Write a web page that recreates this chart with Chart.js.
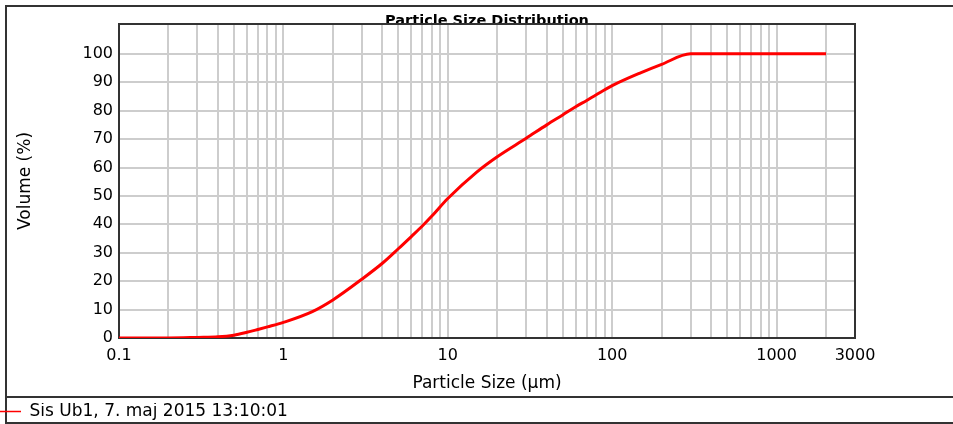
<!DOCTYPE html>
<html>
<head>
<meta charset="utf-8">
<script src="https://cdn.jsdelivr.net/npm/chart.js@4.4.0/dist/chart.umd.min.js"></script>
<style>
    html, body { margin: 0; padding: 0; background: #fff; }
    #wrap { width: 953px; height: 424px; position: relative; }
</style>
</head>
<body>
<div id="wrap"><canvas id="psdChart"></canvas></div>
<script>
    // particle size (um) and cumulative volume (%)
    const sizes = [0.1, 0.2, 0.3, 0.4, 0.5, 0.6, 0.7, 0.8, 1, 1.5, 2, 3, 4, 5, 6, 7, 8, 10, 15, 20, 30, 40, 50, 60, 70, 80, 100, 150, 200, 300, 2000];
    const volume = [0, 0, 0.2, 0.4, 1.0, 2.0, 3.0, 3.9, 5.5, 9.3, 13.4, 20.7, 26.3, 31.4, 35.7, 39.4, 42.9, 49.1, 58.4, 63.8, 70.3, 75.0, 78.5, 81.4, 83.6, 85.6, 88.8, 93.4, 96.3, 100, 100];

    const xGrid = [0.1, 0.2, 0.3, 0.4, 0.5, 0.6, 0.7, 0.8, 0.9,
        1, 2, 3, 4, 5, 6, 7, 8, 9,
        10, 20, 30, 40, 50, 60, 70, 80, 90,
        100, 200, 300, 400, 500, 600, 700, 800, 900,
        1000, 2000, 3000];
    const xLabels = [0.1, 1, 10, 100, 1000, 3000];
    const yTicks = [0, 10, 20, 30, 40, 50, 60, 70, 80, 90, 100];

    const seriesLabel = 'Sis Ub1, 7. maj 2015 13:10:01';
    const chartTitle = 'Particle Size Distribution';

    const FONT = '"DejaVu Sans", Verdana, sans-serif';
    const gridColor = '#cdcdcd';

    // frames, plot border and the clipped title
    const framePlugin = {
        id: 'frames',
        beforeDraw(chart) {
            const {ctx, width} = chart;
            ctx.save();
            ctx.strokeStyle = '#333';
            ctx.lineWidth = 2;
            ctx.strokeRect(6, 6, width + 10, 417);
            ctx.beginPath();
            ctx.moveTo(6, 397);
            ctx.lineTo(width, 397);
            ctx.stroke();
            ctx.restore();
        },
        beforeDatasetsDraw(chart) {
            const {ctx, chartArea: a} = chart;
            ctx.save();
            ctx.strokeStyle = '#333';
            ctx.lineWidth = 2;
            ctx.strokeRect(a.left, a.top, a.right - a.left, a.bottom - a.top);
            ctx.restore();
        },
        afterDraw(chart) {
            const {ctx, chartArea: a} = chart;
            ctx.save();
            ctx.beginPath();
            ctx.rect(0, 0, chart.width, a.top - 1);
            ctx.clip();
            ctx.fillStyle = '#000';
            ctx.font = 'bold 14.5px ' + FONT;
            ctx.textAlign = 'center';
            ctx.textBaseline = 'alphabetic';
            ctx.fillText(chartTitle, (a.left + a.right) / 2, a.top + 1);
            ctx.restore();
        }
    };

    new Chart(document.getElementById('psdChart'), {
        type: 'line',
        data: {
            datasets: [{
                label: seriesLabel,
                data: sizes.map((s, i) => ({x: s, y: volume[i]})),
                borderColor: '#ff0000',
                backgroundColor: '#ff0000',
                borderWidth: 3,
                pointRadius: 0,
                cubicInterpolationMode: 'monotone'
            }]
        },
        options: {
            responsive: true,
            maintainAspectRatio: false,
            animation: false,
            layout: { padding: { left: 0, top: 24, right: 98, bottom: -6 } },
            plugins: {
                legend: {
                    position: 'bottom',
                    align: 'start',
                    labels: {
                        usePointStyle: true,
                        pointStyle: 'line',
                        pointStyleWidth: 21,
                        padding: 0,
                        color: '#000',
                        font: { family: FONT, size: 17 },
                        generateLabels: chart => Chart.defaults.plugins.legend.labels.generateLabels(chart)
                            .map(l => ({...l, lineWidth: 1.5, strokeStyle: '#ff0000'}))
                    }
                },
                tooltip: { enabled: false }
            },
            scales: {
                x: {
                    type: 'logarithmic',
                    min: 0.1,
                    max: 3000,
                    afterBuildTicks: s => { s.ticks = xGrid.map(v => ({value: v})); },
                    afterFit: s => { s.height = 65; },
                    ticks: {
                        autoSkip: false,
                        maxRotation: 0,
                        padding: 8,
                        color: '#000',
                        font: { family: FONT, size: 16 },
                        callback: v => xLabels.includes(v) ? String(v) : ''
                    },
                    grid: { color: gridColor, lineWidth: 2, drawTicks: false },
                    border: { display: false },
                    title: {
                        display: true,
                        text: 'Particle Size (µm)',
                        color: '#000',
                        font: { family: FONT, size: 17 },
                        padding: { top: 0, bottom: 9 }
                    }
                },
                y: {
                    min: 0,
                    max: 110.5,
                    afterBuildTicks: s => { s.ticks = yTicks.map(v => ({value: v})); },
                    afterFit: s => { s.width = 119; },
                    ticks: {
                        padding: 6,
                        color: '#000',
                        font: { family: FONT, size: 16 }
                    },
                    grid: { color: gridColor, lineWidth: 2, drawTicks: false },
                    border: { display: false },
                    title: {
                        display: true,
                        text: 'Volume (%)',
                        color: '#000',
                        font: { family: FONT, size: 17 },
                        padding: { top: 15, bottom: 0 }
                    }
                }
            }
        },
        plugins: [framePlugin]
    });
</script>
</body>
</html>
